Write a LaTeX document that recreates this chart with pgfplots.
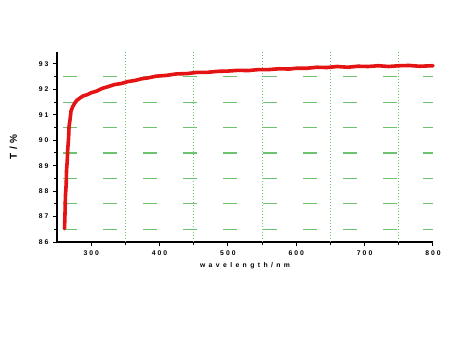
\documentclass[border=0pt]{standalone}
\usepackage{pgfplots}
\pgfplotsset{compat=1.18}
\usepackage{fontspec}
\setmainfont{Liberation Sans}
\definecolor{gridgreen}{RGB}{110,195,110}
\definecolor{curvered}{RGB}{228,20,20}
\newcommand{\s}{\hspace{2pt}}
\newcommand{\w}{\hspace{3.4pt}}
\begin{document}
\begin{tikzpicture}
\path[use as bounding box] (0pt,0pt) rectangle (450pt,338pt);
\begin{axis}[
  at={(57pt,96pt)}, anchor=south west,
  scale only axis, width=376pt, height=190pt,
  xmin=250, xmax=800, ymin=86, ymax=93.47,
  axis x line*=bottom, axis y line*=left,
  axis line style={line width=1.6pt, -},
  xtick={300,400,...,800},
  xticklabels={3\s0\s0,4\s0\s0,5\s0\s0,6\s0\s0,7\s0\s0,8\s0\s0},
  minor xtick={350,450,...,750},
  ytick={86,...,93},
  yticklabels={8\s6,8\s7,8\s8,8\s9,9\s0,9\s1,9\s2,9\s3},
  minor ytick={86.5,87.5,...,92.5},
  tick align=outside,
  major tick length=4pt, minor tick length=3pt,
  tick style={line width=1pt, black},
  ticklabel style={font=\fontsize{6.8}{7}\selectfont\bfseries},
  xticklabel style={yshift=-1pt},
  yticklabel style={xshift=-1pt},
  xlabel={w\w a\w v\w e\w l\w e\w n\w g\w t\w h\w /\w n\w m},
  xlabel style={font=\fontsize{6.8}{7}\selectfont\bfseries, yshift=0pt},
  ylabel={T\hspace{4pt}/\hspace{4pt}\%},
  ylabel style={font=\fontsize{10}{12}\selectfont\bfseries, yshift=15pt},
  clip=false,
]
% vertical dotted grid lines
\foreach \xv in {350,450,550,650,750} {
  \edef\tmp{\noexpand\draw[gridgreen, line width=0.9pt, dash pattern=on 1pt off 2pt] (axis cs:\xv,86) -- (axis cs:\xv,93.47);}
  \tmp
}
% horizontal dashed grid lines
\foreach \yv in {86.5,87.5,88.5,89.5,90.5,91.5,92.5} {
  \edef\tmp{\noexpand\draw[gridgreen, line width=1.2pt, dash pattern=on 14pt off 26pt] (axis cs:259,\yv) -- (axis cs:800,\yv);}
  \tmp
}
\addplot[curvered, line width=3.6pt, line join=round, line cap=round] coordinates {
(261,86.53) (261.8,87.2) (262.3,87.8) (263.5,88.30) (263.9,88.8) (265,89.2)
(265.6,89.61) (267,90.1) (267.6,90.53) (269.5,90.9) (270.5,91.15) (273,91.32)
(276,91.46) (279,91.57) (283,91.65) (288,91.74) (294,91.79) (300,91.87)
(308,91.93) (316,92.04) (324,92.10) (334,92.19) (344,92.23) (354,92.31)
(364,92.35) (374,92.42) (383,92.45) (395,92.52) (410,92.55) (425,92.61)
(440,92.62) (455,92.67) (470,92.67) (485,92.71) (500,92.72) (515,92.75)
(530,92.74) (545,92.78) (560,92.78) (575,92.81) (590,92.80) (600,92.83)
(615,92.83) (630,92.87) (645,92.86) (660,92.90) (675,92.87) (690,92.91)
(705,92.90) (720,92.93) (735,92.90) (750,92.93) (765,92.94) (780,92.91) (800,92.93)
};
\end{axis}
\end{tikzpicture}
\end{document}
